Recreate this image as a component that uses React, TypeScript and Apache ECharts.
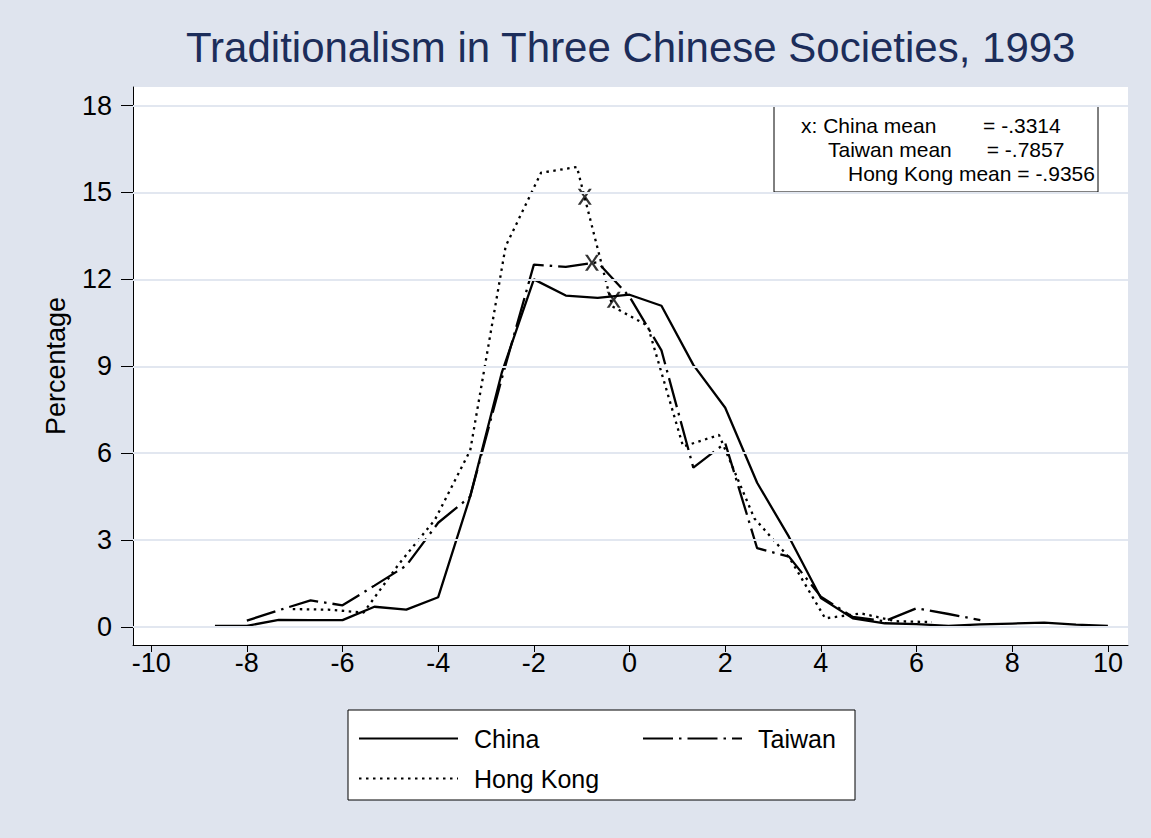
import React, { useEffect, useRef } from 'react';
import * as echarts from 'echarts';

const FONT = '"Liberation Sans", Arial, Helvetica, sans-serif';

const chinaX = [-8.667, -8, -7.333, -6.667, -6, -5.333, -4.667, -4, -3.333, -2.667, -2, -1.333, -0.667, 0, 0.667, 1.333, 2, 2.667, 3.333, 4, 4.667, 5.333, 6, 6.667, 7.333, 8, 8.667, 9.333, 10];
const chinaY = [0.04, 0.04, 0.25, 0.24, 0.24, 0.7, 0.6, 1.03, 4.5, 8.8, 12.0, 11.44, 11.36, 11.47, 11.09, 9.05, 7.57, 4.98, 3.11, 1.0, 0.3, 0.13, 0.1, 0.04, 0.09, 0.12, 0.15, 0.08, 0.04];

const taiwanX = [-8, -7.333, -6.667, -6, -5.333, -4.667, -4, -3.333, -2.667, -2, -1.333, -0.667, 0, 0.667, 1.333, 2, 2.667, 3.333, 4, 4.667, 5.333, 6, 6.667, 7.333];
const taiwanY = [0.22, 0.58, 0.92, 0.75, 1.43, 2.12, 3.6, 4.5, 8.6, 12.51, 12.43, 12.59, 11.4, 9.55, 5.5, 6.35, 2.72, 2.43, 1.05, 0.35, 0.2, 0.65, 0.45, 0.24];

const hongKongX = [-7.04, -6.3, -5.56, -4.81, -4.07, -3.33, -2.59, -1.85, -1.1, -0.36, 0.38, 1.12, 1.87, 2.61, 3.35, 4.09, 4.84, 5.58, 6.32];
const hongKongY = [0.62, 0.6, 0.5, 2.2, 3.7, 6.1, 13.14, 15.68, 15.88, 11.07, 10.4, 6.23, 6.63, 3.75, 2.37, 0.3, 0.47, 0.2, 0.17];

const meanNames = ['China', 'Taiwan', 'Hong Kong'];
const meanX = [-0.3314, -0.7857, -0.9356];
const meanY = [11.3, 12.57, 14.85];

const xTicks = [-10, -8, -6, -4, -2, 0, 2, 4, 6, 8, 10];
const yTicks = [0, 3, 6, 9, 12, 15, 18];

const annotationLines = [
  'x: China mean' + '\u00A0'.repeat(8) + '= -.3314',
  'Taiwan mean' + '\u00A0'.repeat(6) + '= -.7857',
  'Hong Kong mean = -.9356',
];

const BG = '#dfe4ee';
const GRIDC = '#e2e7f0';
const LW = 2.3;

const zip = (xs: number[], ys: number[]) => xs.map((x, i) => [x, ys[i]]);

const xMark = 'path://M0,0 L2.8,0 L7,6.4 L11.2,0 L14,0 L8.5,8 L14,16 L11.2,16 L7,9.6 L2.8,16 L0,16 L5.5,8 Z';

export default function App() {
  const ref = useRef<HTMLDivElement>(null);
  useEffect(() => {
    const chart = echarts.init(ref.current!, null, { renderer: 'svg' });
    const legendText = { fontSize: 25, color: '#000', fontFamily: FONT, padding: [0, 0, 0, 11] };
    const legendCommon = {
      orient: 'vertical',
      top: 726,
      itemWidth: 99, itemHeight: 14, itemGap: 15, padding: 0,
      selectedMode: false,
      itemStyle: { opacity: 0 },
      textStyle: legendText,
    };
    const option: any = {
      animation: false,
      backgroundColor: BG,
      textStyle: { fontFamily: FONT },
      title: {
        text: 'Traditionalism in Three Chinese Societies, 1993',
        left: 181,
        top: 21,
        textStyle: { fontSize: 42, fontWeight: 'normal', color: '#1c2d5a', fontFamily: FONT },
      },
      grid: {
        left: 133, right: 23, top: 87, bottom: 193,
        show: true, backgroundColor: '#ffffff', borderWidth: 0,
      },
      xAxis: {
        type: 'value',
        min: -10.38,
        max: 10.42,
        axisLine: { show: true, onZero: false, lineStyle: { color: '#000', width: 1 } },
        axisTick: { show: true, length: 7, customValues: xTicks, lineStyle: { color: '#000' } },
        axisLabel: { customValues: xTicks, fontSize: 27, color: '#000', margin: 4, fontFamily: FONT },
        splitLine: { show: false },
      },
      yAxis: {
        type: 'value',
        min: -0.62,
        max: 18.64,
        name: 'Percentage',
        nameLocation: 'middle',
        nameGap: 64,
        nameTextStyle: { fontSize: 27, color: '#000', fontFamily: FONT },
        axisLine: { show: true, onZero: false, lineStyle: { color: '#000', width: 1 } },
        axisTick: { show: true, length: 12, customValues: yTicks, lineStyle: { color: '#000' } },
        axisLabel: { customValues: yTicks, fontSize: 27, color: '#000', margin: 21, fontFamily: FONT },
        splitLine: { show: false },
      },
      legend: [
        { ...legendCommon, data: ['China', 'Hong Kong'], left: 358 },
        { ...legendCommon, data: ['Taiwan'], left: 642 },
      ],
      graphic: [
        {
          type: 'rect', z: 1,
          shape: { x: 348, y: 710, width: 507, height: 90 },
          style: { fill: '#ffffff', stroke: '#000', lineWidth: 1 },
        },
        {
          type: 'rect', z: 5,
          shape: { x: 774, y: 106, width: 324, height: 86 },
          style: { fill: '#ffffff', stroke: '#000', lineWidth: 1 },
        },
        ...annotationLines.map((t, i) => ({
          type: 'text', z: 6,
          x: [801, 828, 848][i],
          y: 125 + i * 24,
          style: {
            text: t, fontSize: 21, fontFamily: FONT, fill: '#000',
            textVerticalAlign: 'middle', verticalAlign: 'middle',
          },
        })),
      ],
      series: [
        {
          type: 'line', name: 'grid', data: [], z: 1, silent: true,
          markLine: {
            silent: true, symbol: ['none', 'none'], label: { show: false },
            lineStyle: { color: GRIDC, width: 2, type: 'solid' },
            emphasis: { disabled: true },
            data: yTicks.map((v) => ({ yAxis: v })),
          },
        },
        {
          type: 'line', name: 'China', data: zip(chinaX, chinaY), symbol: 'none', z: 3,
          lineStyle: { color: '#000', width: LW, type: 'solid' },
          itemStyle: { color: '#000' },
        },
        {
          type: 'line', name: 'Taiwan', data: zip(taiwanX, taiwanY), symbol: 'none', z: 3,
          lineStyle: { color: '#000', width: LW, type: [30, 6, 2.5, 6] },
          itemStyle: { color: '#000' },
        },
        {
          type: 'line', name: 'Hong Kong', data: zip(hongKongX, hongKongY), symbol: 'none', z: 3,
          lineStyle: { color: '#000', width: LW, type: [2.5, 4.5] },
          itemStyle: { color: '#000' },
        },
        {
          type: 'scatter', name: 'means', z: 4,
          data: meanX.map((x, i) => ({ name: meanNames[i], value: [x, meanY[i]] })),
          symbol: xMark, symbolSize: [14, 16],
          itemStyle: { color: '#000' },
        },
      ],
    };
    chart.setOption(option);
    return () => chart.dispose();
  }, []);
  return <div ref={ref} style={{ position: 'fixed', left: 0, top: 0, width: 1151, height: 838 }} />;
}
